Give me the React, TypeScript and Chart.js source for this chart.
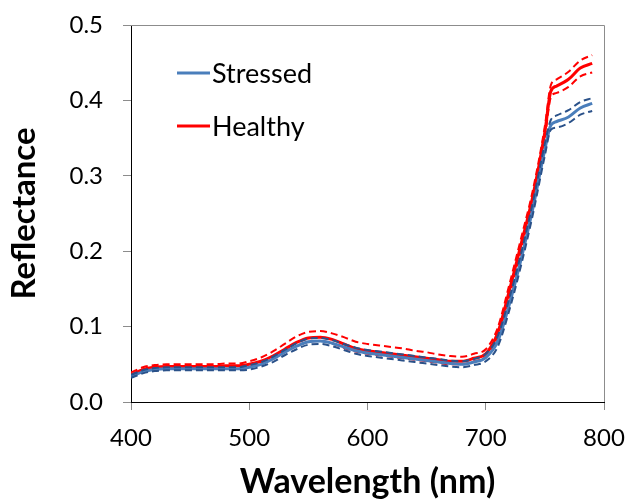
import React, { useEffect, useRef } from "react";
import { Chart, registerables } from "chart.js";

Chart.register(...registerables);

// Wavelength sampling (nm)
const wavelengths = [
  400, 410, 420, 430, 440, 450, 460, 470, 480, 490,
  500, 510, 520, 530, 540, 550, 560, 570, 580, 590,
  600, 610, 620, 630, 640, 650, 660, 670, 680, 690,
  700, 710, 720, 730, 740, 750, 755, 760, 770, 780, 790,
];

// Healthy leaves: mean reflectance and upper / lower bounds
const healthyMean = [
  0.036, 0.043, 0.046, 0.047, 0.047, 0.047, 0.047, 0.047, 0.048, 0.048,
  0.050, 0.054, 0.061, 0.070, 0.079, 0.085, 0.086, 0.083, 0.077, 0.071,
  0.068, 0.066, 0.064, 0.062, 0.060, 0.058, 0.056, 0.054, 0.054, 0.058,
  0.064, 0.091, 0.148, 0.210, 0.274, 0.358, 0.412, 0.419, 0.428, 0.443, 0.449,
];
const healthyUpper = [
  0.039, 0.046, 0.049, 0.050, 0.050, 0.050, 0.050, 0.050, 0.051, 0.051,
  0.054, 0.059, 0.067, 0.077, 0.087, 0.093, 0.094, 0.091, 0.086, 0.080,
  0.077, 0.075, 0.073, 0.071, 0.068, 0.066, 0.063, 0.061, 0.060, 0.064,
  0.070, 0.098, 0.156, 0.218, 0.282, 0.366, 0.420, 0.428, 0.438, 0.453, 0.460,
];
const healthyLower = [
  0.034, 0.041, 0.044, 0.045, 0.045, 0.045, 0.045, 0.045, 0.046, 0.046,
  0.047, 0.051, 0.057, 0.066, 0.074, 0.080, 0.081, 0.078, 0.072, 0.067,
  0.064, 0.062, 0.060, 0.058, 0.056, 0.054, 0.052, 0.050, 0.050, 0.054,
  0.060, 0.085, 0.140, 0.202, 0.266, 0.350, 0.404, 0.410, 0.418, 0.432, 0.437,
];

// Stressed leaves: mean reflectance and upper / lower bounds
const stressedMean = [
  0.034, 0.040, 0.043, 0.044, 0.044, 0.044, 0.044, 0.044, 0.044, 0.044,
  0.046, 0.050, 0.057, 0.066, 0.074, 0.080, 0.081, 0.078, 0.073, 0.068,
  0.065, 0.063, 0.061, 0.059, 0.057, 0.055, 0.053, 0.051, 0.050, 0.053,
  0.059, 0.080, 0.130, 0.190, 0.258, 0.335, 0.367, 0.372, 0.378, 0.390, 0.396,
];
const stressedUpper = [
  0.036, 0.042, 0.045, 0.046, 0.046, 0.046, 0.046, 0.046, 0.046, 0.046,
  0.049, 0.053, 0.060, 0.069, 0.078, 0.084, 0.085, 0.082, 0.077, 0.072,
  0.069, 0.067, 0.065, 0.063, 0.061, 0.059, 0.057, 0.055, 0.054, 0.057,
  0.064, 0.087, 0.138, 0.198, 0.266, 0.343, 0.374, 0.380, 0.387, 0.398, 0.403,
];
const stressedLower = [
  0.032, 0.038, 0.041, 0.042, 0.042, 0.042, 0.042, 0.042, 0.042, 0.042,
  0.043, 0.047, 0.053, 0.062, 0.070, 0.076, 0.077, 0.074, 0.069, 0.064,
  0.061, 0.059, 0.057, 0.055, 0.053, 0.051, 0.049, 0.047, 0.046, 0.049,
  0.054, 0.073, 0.122, 0.182, 0.250, 0.327, 0.361, 0.364, 0.370, 0.381, 0.386,
];

const xTicks = [400, 500, 600, 700, 800];
const yTicks = [0.0, 0.1, 0.2, 0.3, 0.4, 0.5];

const legendItems = [
  { label: "Stressed", color: "#4A7EBB" },
  { label: "Healthy", color: "#FF0000" },
];

const FONT = 'Lato, "Open Sans", sans-serif';
const STRESSED = "#4A7EBB";
const STRESSED_DASH = "#2A5189";
const HEALTHY = "#FF0000";

const points = (ys: number[]) => wavelengths.map((x, i) => ({ x, y: ys[i] }));

const line = (data: number[], color: string, dashed: boolean) => ({
  data: points(data),
  borderColor: color,
  borderWidth: dashed ? 2 : 3,
  borderDash: dashed ? [7, 4] : [],
  pointRadius: 0,
  fill: false,
  cubicInterpolationMode: "monotone" as const,
});

// Grey frame on the top and right edges of the plot
const framePlugin = {
  id: "frame",
  afterDraw(chart: any) {
    const { ctx, chartArea: a } = chart;
    ctx.save();
    ctx.strokeStyle = "#8C8C8C";
    ctx.lineWidth = 1;
    ctx.beginPath();
    ctx.moveTo(a.left, a.top + 0.5);
    ctx.lineTo(a.right + 0.5, a.top + 0.5);
    ctx.lineTo(a.right + 0.5, a.bottom);
    ctx.stroke();
    ctx.restore();
  },
};

// Legend drawn inside the plot, upper left
const insideLegend = {
  id: "insideLegend",
  afterDraw(chart: any) {
    const { ctx, chartArea: a } = chart;
    ctx.save();
    ctx.font = `27px ${FONT}`;
    ctx.textBaseline = "middle";
    ctx.textAlign = "left";
    legendItems.forEach((item, i) => {
      const y = a.top + 48 + i * 53;
      const x0 = a.left + 46;
      ctx.strokeStyle = item.color;
      ctx.lineWidth = 3;
      ctx.beginPath();
      ctx.moveTo(x0, y);
      ctx.lineTo(x0 + 33, y);
      ctx.stroke();
      ctx.fillStyle = "#000";
      ctx.fillText(item.label, x0 + 35, y + 1);
    });
    ctx.restore();
  },
};

export default function App() {
  const ref = useRef<HTMLCanvasElement | null>(null);

  useEffect(() => {
    if (!ref.current) return;
    const chart = new Chart(ref.current, {
      type: "line",
      data: {
        datasets: [
          line(stressedLower, STRESSED_DASH, true),
          line(stressedUpper, STRESSED_DASH, true),
          line(stressedMean, STRESSED, false),
          line(healthyMean, HEALTHY, false),
          line(healthyUpper, HEALTHY, true),
          line(healthyLower, HEALTHY, true),
        ],
      },
      options: {
        animation: false,
        responsive: false,
        layout: { padding: { top: 25, right: 23, left: 0, bottom: 0 } },
        plugins: {
          legend: { display: false },
          tooltip: { enabled: false },
        },
        scales: {
          x: {
            type: "linear",
            min: 400,
            max: 800,
            afterBuildTicks: (s: any) => {
              s.ticks = xTicks.map((v) => ({ value: v }));
            },
            afterFit: (s: any) => {
              s.height = 100;
              s.paddingLeft = 0;
              s.paddingRight = 0;
            },
            ticks: {
              color: "#000",
              font: { family: FONT, size: 24 },
              padding: 14,
              maxRotation: 0,
            },
            grid: {
              drawOnChartArea: false,
              drawTicks: true,
              tickLength: 8,
              color: "#8C8C8C",
            },
            border: { display: true, color: "#000", width: 1 },
            title: {
              display: true,
              text: "Wavelength (nm)",
              color: "#000",
              font: { family: FONT, size: 34, weight: "bold" },
              padding: { top: 0, bottom: 0 },
            },
          },
          y: {
            type: "linear",
            min: 0,
            max: 0.5,
            afterBuildTicks: (s: any) => {
              s.ticks = yTicks.map((v) => ({ value: v }));
            },
            afterFit: (s: any) => {
              s.width = 131;
              s.paddingTop = 0;
              s.paddingBottom = 0;
            },
            ticks: {
              color: "#000",
              font: { family: FONT, size: 24 },
              padding: 20,
              callback: (v: any) => Number(v).toFixed(1),
            },
            grid: {
              drawOnChartArea: false,
              drawTicks: true,
              tickLength: 8,
              color: "#8C8C8C",
            },
            border: { display: true, color: "#000", width: 1 },
            title: {
              display: true,
              text: "Reflectance",
              color: "#000",
              font: { family: FONT, size: 33, weight: "bold" },
              padding: { top: 5, bottom: 0 },
            },
          },
        },
      },
      plugins: [framePlugin, insideLegend],
    });
    return () => chart.destroy();
  }, []);

  return (
    <div style={{ position: "fixed", left: 0, top: 0, width: 627, height: 502, background: "#fff" }}>
      <canvas ref={ref} width={627} height={502} style={{ display: "block" }} />
    </div>
  );
}
